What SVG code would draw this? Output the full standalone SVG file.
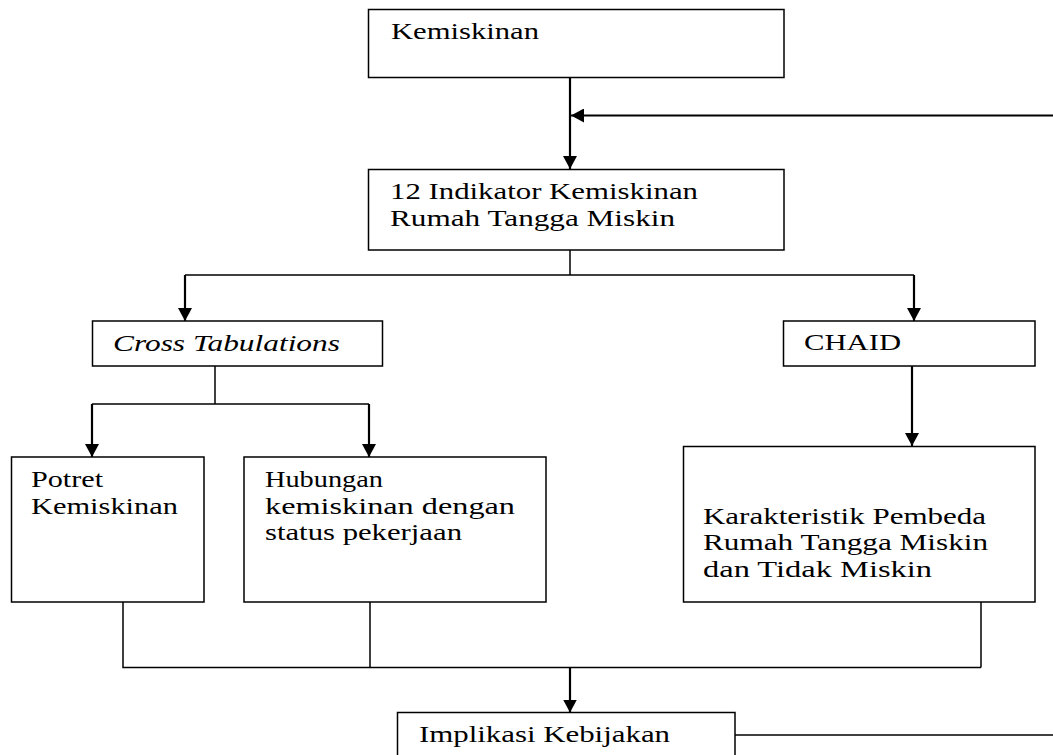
<svg xmlns="http://www.w3.org/2000/svg" width="1053" height="755" viewBox="0 0 1053 755">
<style>
.box{fill:#fff;stroke:#000;stroke-width:1.5}
.t{font-family:"Liberation Serif","Times New Roman",serif;font-size:24px;fill:#000}
.it{font-style:italic}
.ln{fill:none;stroke:#000;stroke-width:1.5}
.ar{fill:none;stroke:#000;stroke-width:2.2;marker-end:url(#ah)}
</style>
<defs>
<marker id="ah" markerUnits="userSpaceOnUse" markerWidth="14" markerHeight="14" refX="13" refY="7" orient="auto">
<path d="M0,0 L13,7 L0,14 Z" fill="#000"/>
</marker>
</defs>
<rect width="1053" height="755" fill="#fff"/>
<g id="connectors">
<line class="ar" x1="570" y1="77" x2="570" y2="169"/>
<line class="ar" x1="1053" y1="115.5" x2="571" y2="115.5"/>
<polyline class="ln" points="570,250 570,275"/>
<polyline class="ln" points="185,275 914,275"/>
<line class="ar" x1="185" y1="275" x2="185" y2="321"/>
<line class="ar" x1="914" y1="275" x2="914" y2="321"/>
<polyline class="ln" points="215,366 215,404"/>
<polyline class="ln" points="92,404 369,404"/>
<line class="ar" x1="92" y1="404" x2="92" y2="457"/>
<line class="ar" x1="369" y1="404" x2="369" y2="457"/>
<line class="ar" x1="912" y1="366" x2="912" y2="446"/>
<polyline class="ln" points="123,602 123,667.5 981,667.5"/>
<polyline class="ln" points="370,602 370,667.5"/>
<polyline class="ln" points="981,602 981,667.5"/>
<line class="ar" x1="570" y1="667.5" x2="570" y2="712.5"/>
<polyline class="ln" points="735,735 1053,735"/>
</g>
<g id="kemiskinan">
<rect class="box" x="368.5" y="9.5" width="415.5" height="68"/>
<text class="t" transform="translate(391,38.5) scale(1.28,1)" textLength="115.6" lengthAdjust="spacingAndGlyphs">Kemiskinan</text>
</g>
<g id="indikator">
<rect class="box" x="368.5" y="169.5" width="415.5" height="80.5"/>
<text class="t" transform="translate(390,198.5) scale(1.28,1)" textLength="240.6" lengthAdjust="spacingAndGlyphs">12 Indikator Kemiskinan</text>
<text class="t" transform="translate(390,225.5) scale(1.28,1)" textLength="222.7" lengthAdjust="spacingAndGlyphs">Rumah Tangga Miskin</text>
</g>
<g id="cross">
<rect class="box" x="92.5" y="321" width="290" height="45"/>
<text class="t it" transform="translate(113,350.5) scale(1.28,1)" textLength="177.3" lengthAdjust="spacingAndGlyphs">Cross Tabulations</text>
</g>
<g id="chaid">
<rect class="box" x="783.5" y="321" width="251.5" height="45"/>
<text class="t" transform="translate(804,350) scale(1.28,1)" textLength="75.8" lengthAdjust="spacingAndGlyphs">CHAID</text>
</g>
<g id="potret">
<rect class="box" x="11.5" y="457" width="192.5" height="145"/>
<text class="t" transform="translate(31,486.5) scale(1.28,1)" textLength="56.3" lengthAdjust="spacingAndGlyphs">Potret</text>
<text class="t" transform="translate(31,513.5) scale(1.28,1)" textLength="114.8" lengthAdjust="spacingAndGlyphs">Kemiskinan</text>
</g>
<g id="hubungan">
<rect class="box" x="244" y="457" width="302" height="145"/>
<text class="t" transform="translate(265,486.5) scale(1.28,1)" textLength="92.2" lengthAdjust="spacingAndGlyphs">Hubungan</text>
<text class="t" transform="translate(265,513.5) scale(1.28,1)" textLength="195.3" lengthAdjust="spacingAndGlyphs">kemiskinan dengan</text>
<text class="t" transform="translate(265,540) scale(1.28,1)" textLength="153.9" lengthAdjust="spacingAndGlyphs">status pekerjaan</text>
</g>
<g id="karakteristik">
<rect class="box" x="683.5" y="446.5" width="351.5" height="155.5"/>
<text class="t" transform="translate(703,523.5) scale(1.28,1)" textLength="221.1" lengthAdjust="spacingAndGlyphs">Karakteristik Pembeda</text>
<text class="t" transform="translate(703,550) scale(1.28,1)" textLength="222.7" lengthAdjust="spacingAndGlyphs">Rumah Tangga Miskin</text>
<text class="t" transform="translate(703,576.5) scale(1.28,1)" textLength="178.9" lengthAdjust="spacingAndGlyphs">dan Tidak Miskin</text>
</g>
<g id="implikasi">
<rect class="box" x="397.5" y="712.5" width="337.5" height="60"/>
<text class="t" transform="translate(419,741.5) scale(1.28,1)" textLength="196.1" lengthAdjust="spacingAndGlyphs">Implikasi Kebijakan</text>
</g>
</svg>
